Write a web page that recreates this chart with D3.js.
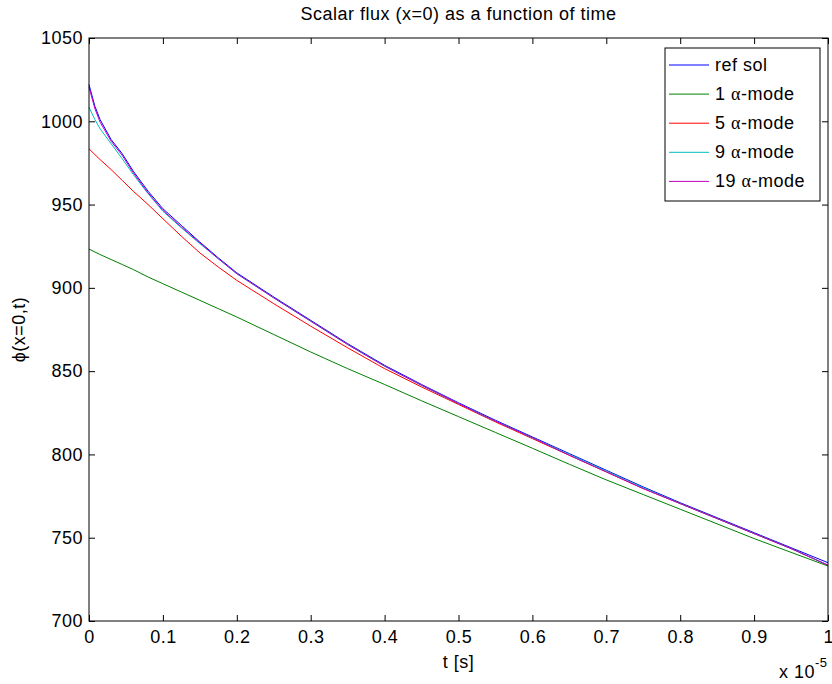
<!DOCTYPE html>
<html>
<head>
<meta charset="utf-8">
<script src="https://cdn.jsdelivr.net/npm/d3@7"></script>
<style>
  html, body { margin: 0; padding: 0; background: #fff; }
  svg { display: block; }
  text { font-family: "Liberation Sans", Arial, Helvetica, sans-serif; fill: #000; letter-spacing: 0.5px; }
</style>
</head>
<body>
<svg id="chart" width="832" height="684"></svg>
<script>
// ---- data (time in units of 1e-5 s) ----
const tValues = [0, 0.008, 0.015, 0.03, 0.045, 0.06, 0.08, 0.1, 0.125, 0.15, 0.175, 0.2, 0.25, 0.3, 0.35, 0.4, 0.45, 0.5, 0.55, 0.6, 0.65, 0.7, 0.75, 0.8, 0.85, 0.9, 0.95, 1.0];
const refSol  = [1022, 1009, 1001, 989, 980.5, 970, 958, 947.5, 937.5, 927.5, 918, 909, 894.5, 880.5, 866.5, 853.5, 842, 831, 820.5, 810.5, 800.5, 790.5, 780.5, 771, 762, 753, 744, 735];
const mode1   = [923.3, 921.5, 920, 917, 914, 911, 906.5, 902.5, 897.5, 892.5, 887.5, 882.5, 872, 861.5, 851.5, 842, 832.2, 822.7, 813.2, 803.7, 794.1, 784.7, 775.9, 767.1, 758.3, 749.5, 741.2, 733];
const mode5   = [983.5, 980, 977, 971, 964.5, 958, 950, 941.5, 931, 921, 912.5, 904.5, 890.5, 877, 864, 851.5, 840.5, 830, 819.5, 809.5, 799.5, 789.5, 779.5, 770.5, 761.5, 752.5, 743.5, 733.5];
const mode9   = [1008.5, 1001, 995.5, 986.5, 977.5, 968, 956.5, 946, 936, 926.5, 917.5, 908.5, 894, 880, 866, 853, 841.5, 830.5, 820, 810, 800, 790, 780, 770.5, 761.5, 752.5, 743.5, 733.5];
const mode19  = [1020.5, 1007.5, 999.5, 988, 979.5, 969, 957, 946.5, 936.5, 927, 917.5, 908.5, 894, 880, 866, 853, 841.5, 830.5, 820, 810, 799.5, 789.5, 779.5, 770.5, 761.5, 752.5, 743.5, 733.5];

const seriesNames  = ["ref sol", "1", "5", "9", "19"];
const seriesColors = ["#0000ff", "#008000", "#ff0000", "#00bfbf", "#bf00bf"];
const seriesValues = [refSol, mode1, mode5, mode9, mode19];
const drawOrder = [0, 1, 2, 3, 4];

const xTicks = [0, 0.1, 0.2, 0.3, 0.4, 0.5, 0.6, 0.7, 0.8, 0.9, 1];
const yTicks = [700, 750, 800, 850, 900, 950, 1000, 1050];

const titleText = "Scalar flux (x=0) as a function of time";
const xLabelText = "t [s]";
const yLabelText = "\u03D5(x=0,t)";

// ---- layout ----
const L = 89, R = 828, T = 38, B = 621;
const FS = 18;
const svg = d3.select("#chart");

const x = d3.scaleLinear().domain([0, 1]).range([L, R]);
const y = d3.scaleLinear().domain([700, 1050]).range([B, T]);

// lines
const line = d3.line().x((d, i) => x(tValues[i])).y(d => y(d));
const plotG = svg.append("g");
drawOrder.forEach(k => {
  plotG.append("path")
    .datum(seriesValues[k])
    .attr("d", line)
    .attr("fill", "none")
    .attr("stroke", seriesColors[k])
    .attr("stroke-width", 1)
    .attr("stroke-linejoin", "round");
});

// axes (MATLAB-like box with inward ticks)
const tickLen = 6;
const axBottom = d3.axisBottom(x).tickValues(xTicks).tickSize(-tickLen).tickPadding(9.5).tickFormat(d3.format("~g"));
const axTop = d3.axisTop(x).tickValues(xTicks).tickSize(-tickLen).tickFormat("");
const axLeft = d3.axisLeft(y).tickValues(yTicks).tickSize(-tickLen).tickPadding(6).tickFormat(d3.format("d"));
const axRight = d3.axisRight(y).tickValues(yTicks).tickSize(-tickLen).tickFormat("");

function style(g) {
  g.selectAll(".domain").remove();
  g.selectAll("line").attr("stroke", "#000").attr("stroke-width", 1);
  g.selectAll("text").style("font-family", '"Liberation Sans", Arial, sans-serif').style("font-size", FS + "px").attr("fill", "#000");
}
const gB = svg.append("g").attr("transform", `translate(0,${B})`).call(axBottom).call(style);
// keep the last label inside the picture
gB.selectAll(".tick text").filter(d => d === 1).attr("text-anchor", "end").attr("dx", "5px").style("letter-spacing", "0px");
svg.append("g").attr("transform", `translate(0,${T})`).call(axTop).call(style);
svg.append("g").attr("transform", `translate(${L},0)`).call(axLeft).call(style);
svg.append("g").attr("transform", `translate(${R},0)`).call(axRight).call(style);

// box
svg.append("rect").attr("x", L).attr("y", T).attr("width", R - L).attr("height", B - T)
  .attr("fill", "none").attr("stroke", "#000").attr("stroke-width", 1);

// title and labels
svg.append("text").attr("x", (L + R) / 2).attr("y", 20).attr("text-anchor", "middle")
  .style("font-size", FS + "px").text(titleText);
svg.append("text").attr("x", (L + R) / 2).attr("y", 668).attr("text-anchor", "middle")
  .style("font-size", FS + "px").text(xLabelText);
svg.append("text").attr("transform", `translate(25,${(T + B) / 2}) rotate(-90)`).attr("text-anchor", "middle")
  .style("font-size", FS + "px").text(yLabelText);

// exponent
const ex = svg.append("text").attr("x", 779).attr("y", 678).style("font-size", FS + "px");
ex.append("tspan").text("x 10");
ex.append("tspan").attr("dy", -11).style("font-size", "13px").text("-5");

// legend
const lg = { x: 665, y: 48, w: 155, h: 153 };
const legG = svg.append("g");
legG.append("rect").attr("x", lg.x).attr("y", lg.y).attr("width", lg.w).attr("height", lg.h)
  .attr("fill", "#fff").attr("stroke", "#000").attr("stroke-width", 1);
seriesNames.forEach((name, i) => {
  const cy = 65 + i * 29.1;
  legG.append("line").attr("x1", 669).attr("x2", 709).attr("y1", cy).attr("y2", cy)
    .attr("stroke", seriesColors[i]).attr("stroke-width", 1);
  const t = legG.append("text").attr("x", 715).attr("y", cy + 6).style("font-size", FS + "px");
  if (i === 0) {
    t.text(name);
  } else {
    t.append("tspan").text(name + " ");
    t.append("tspan").style("font-family", '"Liberation Serif", "DejaVu Serif", serif').text("\u03B1");
    t.append("tspan").text("-mode");
  }
});
</script>
</body>
</html>
